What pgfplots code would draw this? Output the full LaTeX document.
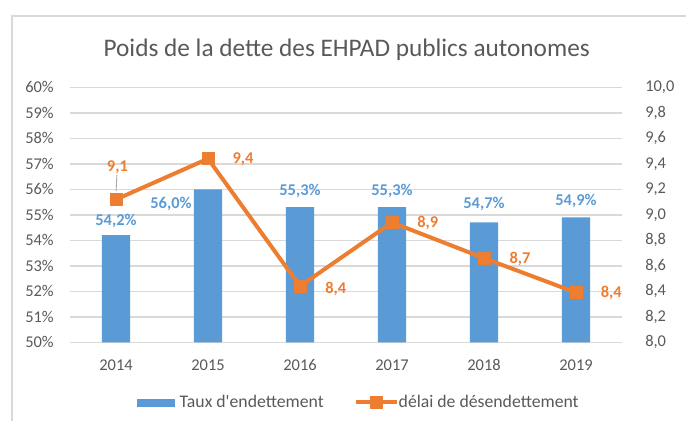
\documentclass[border=0pt]{standalone}
\usepackage{fontspec}
\setmainfont{Carlito}
\usepackage{pgfplots}
\usepackage{pgfplotstable}
\pgfplotsset{compat=1.18}

\definecolor{barblue}{HTML}{5B9BD5}
\definecolor{lineorange}{HTML}{ED7D31}
\definecolor{gridgray}{HTML}{D9D9D9}
\definecolor{txtgray}{HTML}{595959}
\newcommand\tkfont{\fontsize{11.5bp}{13bp}\selectfont}

% x, value, label shift (px)
\pgfplotstableread{
x y dx dy
0 54.2 0 14
1 56.0 -37 -14.7
2 55.3 0 16.5
3 55.3 0 16.5
4 54.7 0 19
5 54.9 0 16.4
}\taux

\pgfplotstableread{
x y dx dy
0 9.12 1.4 32.3
1 9.44 35 -1
2 8.44 35.8 -2.3
3 8.94 35.7 -0.6
4 8.66 36 -0.3
5 8.39 35.3 0
}\delai

\pgfplotsset{
  common/.style={
    at={(49bp,55.09bp)}, anchor=south west,
    scale only axis, width=386.4bp, height=178.5bp,
    xmin=-0.5, xmax=5.5,
    axis line style={draw=none},
    major tick length=0pt,
    tick label style={font=\tkfont, text=txtgray, inner sep=0pt},
    /pgf/number format/assume math mode=true,
    clip=false,
  },
  lineleg/.style={legend image code/.code={\draw[mark repeat=2,mark phase=2,##1]
      plot coordinates {(0bp,0bp) (14.35bp,0bp) (28.7bp,0bp)};}},
  barleg/.style={legend image code/.code={\fill[barblue] (0bp,-2.45bp) rectangle (25.9bp,2.45bp);
      \path (29.4bp,0bp);}},
}

\begin{document}
\begin{tikzpicture}
\path[use as bounding box] (0bp,0bp) rectangle (480.2bp,294.7bp);
\draw[gridgray, line width=1.4bp] (8.4bp,0bp) -- (8.4bp,283.5bp) -- (480.2bp,283.5bp);
\node[txtgray, font=\fontsize{17.7bp}{20bp}\selectfont] at (242.7bp,259.7bp)
  {Poids de la dette des EHPAD publics autonomes};

\begin{axis}[common,
    ymin=50, ymax=60, ytick={50,51,...,60},
    xtick={0,...,5}, xticklabels={2014,2015,2016,2017,2018,2019},
    ymajorgrids, grid style={gridgray, line width=1.1bp},
    yticklabel={\pgfmathprintnumber{\tick}\%},
    yticklabel style={anchor=east, xshift=-11.2bp},
    xticklabel style={anchor=center, yshift=-15.9bp},
]
\addplot[ybar, bar width=19.8bp, fill=barblue, draw=none,
    point meta=y,
    visualization depends on={\thisrow{dx}\as\dx},
    visualization depends on={\thisrow{dy}\as\dy},
    nodes near coords={\pgfmathprintnumber[use comma,fixed,fixed zerofill,precision=1]{\pgfplotspointmeta}\%},
    every node near coord/.append style={anchor=center, font=\tkfont\bfseries,
      text=barblue, xshift=\dx*0.7bp, yshift=\dy*0.7bp},
] table[x=x, y=y] {\taux};
\end{axis}

\begin{axis}[common,
    ymin=8, ymax=10,
    ytick={8,8.2,8.4,8.6,8.8,9,9.2,9.4,9.6,9.8,10},
    axis y line*=right, axis x line=none,
    yticklabel style={anchor=west, xshift=16.1bp,
      /pgf/number format/.cd, use comma, fixed, fixed zerofill, precision=1},
    legend columns=2,
    legend style={at={(axis description cs:0.5216,-0.236)}, anchor=center,
      draw=none, fill=none, font=\fontsize{12.4bp}{14bp}\selectfont, text=txtgray,
      inner sep=0pt, nodes={inner sep=0pt},
      /tikz/every even column/.append style={column sep=21bp}},
]
\addlegendimage{barleg}
\addlegendentry{Taux d\textquotesingle endettement}
\addplot[lineorange, line width=2.8bp, line join=round,
    mark=square*, mark size=4.2bp, mark options={line width=0.5bp},
    point meta=y,
    visualization depends on={\thisrow{dx}\as\dx},
    visualization depends on={\thisrow{dy}\as\dy},
    nodes near coords={\pgfmathprintnumber[use comma,fixed,precision=1]{\pgfplotspointmeta}},
    every node near coord/.append style={anchor=center, font=\tkfont\bfseries,
      text=lineorange, xshift=\dx*0.7bp, yshift=\dy*0.7bp},
    lineleg,
] table[x=x, y=y] {\delai};
\addlegendentry{délai de désendettement}
\end{axis}

\draw[gray!70, line width=0.6bp] (81.8bp,172.2bp) -- (81.3bp,161bp);
\end{tikzpicture}
\end{document}
